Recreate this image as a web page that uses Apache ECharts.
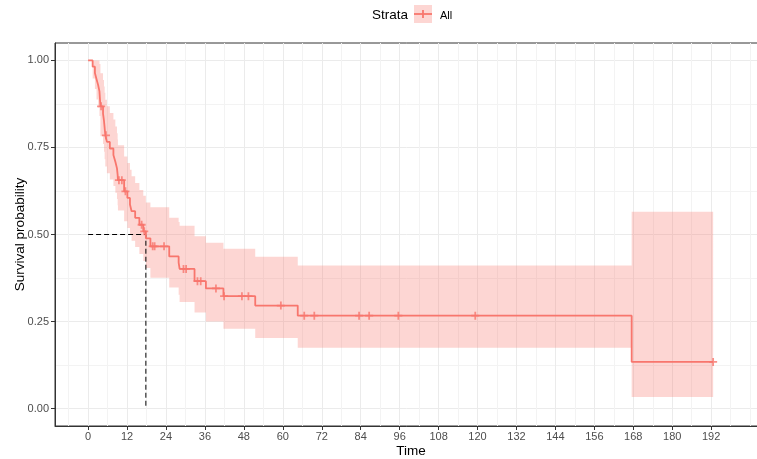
<!DOCTYPE html>
<html>
<head>
<meta charset="utf-8">
<title>Kaplan-Meier survival curve</title>
<script src="https://cdn.jsdelivr.net/npm/echarts@6/dist/echarts.min.js"></script>
<style>
  html, body { margin: 0; padding: 0; background: #ffffff; }
  #chart { width: 757px; height: 459px; }
</style>
</head>
<body>
<div id="chart"></div>
<script>
// Kaplan-Meier estimate: each value holds from its time until the next step time.
const stepTimes = [0, 1.4, 2.1, 2.6, 3.1, 3.5, 3.8, 4.6, 4.9, 5.1, 5.3, 5.8, 6.7, 7.8, 8.4, 8.9, 9.1, 9.2,
  11.1, 12.1, 12.9, 13.4, 14.5, 15.8, 17.0, 17.8, 19.2, 25.0, 27.9, 28.2, 32.8, 36.3, 41.7, 51.5, 64.6, 167.5, 192.6];
const survival = [1, 0.982, 0.964, 0.946, 0.929, 0.911, 0.868, 0.847, 0.826, 0.806, 0.785, 0.766, 0.747, 0.728,
  0.709, 0.690, 0.672, 0.656, 0.624, 0.605, 0.586, 0.567, 0.548, 0.528, 0.509, 0.489, 0.466, 0.437, 0.419, 0.401,
  0.366, 0.345, 0.323, 0.296, 0.267, 0.134, 0.134];
const upperCI = [1, 1, 1, 1, 1, 0.99, 0.963, 0.944, 0.925, 0.907, 0.887, 0.868, 0.849, 0.830, 0.810, 0.791, 0.773,
  0.756, 0.724, 0.705, 0.686, 0.667, 0.648, 0.628, 0.611, 0.592, 0.578, 0.548, 0.536, 0.525, 0.495, 0.476, 0.459,
  0.436, 0.411, 0.565, 0.565];
const lowerCI = [1, 0.948, 0.918, 0.888, 0.864, 0.840, 0.782, 0.760, 0.738, 0.716, 0.695, 0.676, 0.658, 0.639,
  0.620, 0.602, 0.584, 0.569, 0.538, 0.519, 0.501, 0.482, 0.464, 0.444, 0.424, 0.404, 0.376, 0.348, 0.327, 0.306,
  0.276, 0.250, 0.229, 0.203, 0.175, 0.033, 0.033];

// Censoring times (marked with "+")
const censorTimes = [4.0, 5.5, 9.5, 10.4, 11.5, 16.5, 17.3, 19.9, 20.5, 23.4, 29.4, 30.2, 33.7, 34.7, 39.4,
  41.9, 47.4, 49.4, 59.4, 66.6, 69.7, 83.5, 86.6, 95.6, 119.3, 192.6];

// Median survival
const medianTime = 17.8;
const medianSurv = 0.5;

// Axis breaks
const xTicks = [0, 12, 24, 36, 48, 60, 72, 84, 96, 108, 120, 132, 144, 156, 168, 180, 192];
const xMinorTicks = [-6, 6, 18, 30, 42, 54, 66, 78, 90, 102, 114, 126, 138, 150, 162, 174, 186, 198, 204];
const yTicks = [0, 0.25, 0.5, 0.75, 1];
const yMinorTicks = [0.125, 0.375, 0.625, 0.875];

const legendTitle = 'Strata';
const stratumName = 'All';

const RED = '#F8766D';
const BAND = 'rgba(248,118,109,0.3)';
const FONT = '"Liberation Sans", Arial, sans-serif';

function survAt(t) {
  let s = survival[0];
  for (let i = 0; i < stepTimes.length; i++) {
    if (stepTimes[i] <= t) s = survival[i];
  }
  return s;
}

const curveData = stepTimes.map((t, i) => [t, survival[i]]);
const censorData = censorTimes.map(t => [t, survAt(t)]);
const medianData = [[0, medianSurv], [medianTime, medianSurv], [medianTime, 0]];

const X_MIN = -10.2, X_MAX = 209.2;
const Y_MIN = -0.05, Y_MAX = 1.05;

const plusSymbol = 'path://M-1,-4.5h2v3.5h3.5v2h-3.5v3.5h-2v-3.5h-3.5v-2h3.5z';

const chart = echarts.init(document.getElementById('chart'), null, { renderer: 'canvas' });

chart.setOption({
  animation: false,
  backgroundColor: '#ffffff',
  grid: {
    left: 55, top: 43, width: 712, height: 383,
    containLabel: false,
    outerBoundsMode: 'none',
    show: true,
    backgroundColor: 'transparent',
    borderColor: '#333333',
    borderWidth: 1
  },
  xAxis: [
    {
      type: 'value', min: X_MIN, max: X_MAX, position: 'bottom',
      name: 'Time', nameLocation: 'middle', nameGap: 18, nameMoveOverlap: false,
      nameTextStyle: { fontSize: 13.5, color: '#000000', fontFamily: FONT },
      axisLine: { show: true, onZero: false, lineStyle: { color: '#333333', width: 1 } },
      axisTick: { show: true, length: 4, lineStyle: { color: '#333333', width: 1 }, customValues: xTicks },
      axisLabel: { customValues: xTicks, margin: 5, fontSize: 11, color: '#4D4D4D', fontFamily: FONT },
      splitLine: { show: true, lineStyle: { color: '#EBEBEB', width: 1 } }
    },
    {
      type: 'value', min: X_MIN, max: X_MAX, position: 'top',
      axisLine: { show: false },
      axisTick: { show: false, customValues: xMinorTicks },
      axisLabel: { show: false },
      splitLine: { show: true, lineStyle: { color: '#F3F3F3', width: 1 } }
    }
  ],
  yAxis: [
    {
      type: 'value', min: Y_MIN, max: Y_MAX, position: 'left',
      name: 'Survival probability', nameLocation: 'middle', nameGap: 28, nameMoveOverlap: false,
      nameTextStyle: { fontSize: 13.5, color: '#000000', fontFamily: FONT },
      axisLine: { show: true, onZero: false, lineStyle: { color: '#333333', width: 1 } },
      axisTick: { show: true, length: 4, lineStyle: { color: '#333333', width: 1 }, customValues: yTicks },
      axisLabel: {
        customValues: yTicks, margin: 6, fontSize: 11, color: '#4D4D4D', fontFamily: FONT,
        formatter: v => v.toFixed(2)
      },
      splitLine: { show: true, lineStyle: { color: '#EBEBEB', width: 1 } }
    },
    {
      type: 'value', min: Y_MIN, max: Y_MAX, position: 'right',
      axisLine: { show: false },
      axisTick: { show: false, customValues: yMinorTicks },
      axisLabel: { show: false },
      splitLine: { show: true, lineStyle: { color: '#F3F3F3', width: 1 } }
    }
  ],
  series: [
    {
      // Confidence band drawn as one stepped polygon
      name: 'band', type: 'custom', xAxisIndex: 0, yAxisIndex: 0,
      silent: true, clip: true, z: 1,
      data: [[0, 0]],
      renderItem: function (params, api) {
        const pts = [];
        const n = stepTimes.length;
        for (let i = 0; i < n - 1; i++) {
          pts.push(api.coord([stepTimes[i], upperCI[i]]));
          pts.push(api.coord([stepTimes[i + 1], upperCI[i]]));
        }
        for (let i = n - 2; i >= 0; i--) {
          pts.push(api.coord([stepTimes[i + 1], lowerCI[i]]));
          pts.push(api.coord([stepTimes[i], lowerCI[i]]));
        }
        return { type: 'polygon', shape: { points: pts }, style: { fill: BAND } };
      }
    },
    {
      name: 'median', type: 'line', xAxisIndex: 0, yAxisIndex: 0,
      data: medianData, symbol: 'none', silent: true, z: 2,
      lineStyle: { color: '#000000', width: 1, type: [5, 3] }
    },
    {
      name: stratumName, type: 'line', step: 'end', xAxisIndex: 0, yAxisIndex: 0,
      data: curveData, symbol: 'none', z: 3,
      lineStyle: { color: RED, width: 1.8 }
    },
    {
      name: 'censor', type: 'scatter', xAxisIndex: 0, yAxisIndex: 0,
      data: censorData, symbol: plusSymbol, symbolSize: 8, z: 4,
      itemStyle: { color: RED }
    }
  ],
  graphic: [
    {
      type: 'text', x: 372, y: 15.5,
      style: { text: legendTitle, font: '13.5px ' + FONT, fill: '#000000', align: 'left', verticalAlign: 'middle' }
    },
    {
      type: 'rect', shape: { x: 414, y: 5, width: 18, height: 18 },
      style: { fill: BAND }
    },
    {
      type: 'line', shape: { x1: 414, y1: 14, x2: 432, y2: 14 },
      style: { stroke: RED, lineWidth: 1.8 }
    },
    {
      type: 'line', shape: { x1: 423, y1: 10, x2: 423, y2: 18 },
      style: { stroke: RED, lineWidth: 1.8 }
    },
    {
      type: 'text', x: 440, y: 15.5,
      style: { text: stratumName, font: '11px ' + FONT, fill: '#000000', align: 'left', verticalAlign: 'middle' }
    }
  ]
});
</script>
</body>
</html>
